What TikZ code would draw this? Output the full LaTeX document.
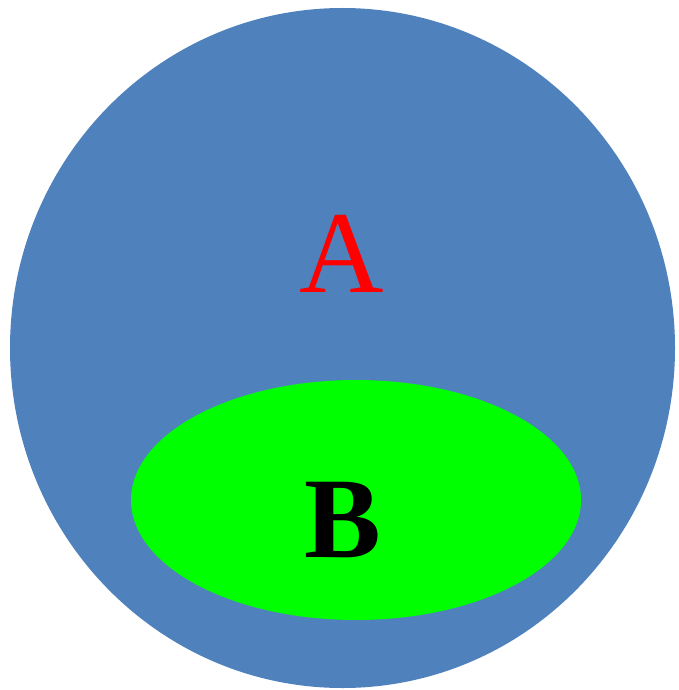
\documentclass[tikz,border=0pt]{standalone}
\usepackage{fontspec}
\setmainfont{Liberation Serif}
\definecolor{blueA}{HTML}{4F81BD}
\definecolor{greenB}{HTML}{00FF00}
\begin{document}
\begin{tikzpicture}[x=1pt,y=-1pt,
  setA/.style={fill=blueA,draw=none},
  setB/.style={fill=greenB,draw=none},
  lbl/.style={inner sep=0pt,anchor=base}]
\useasboundingbox (0,0) rectangle (679,690);
\path[setA] (342.5,348) ellipse [x radius=332.5, y radius=340];
\path[setB] (356,500) ellipse [x radius=225, y radius=120];
\node[lbl,text=red] (A) at (342,292) {\fontsize{117}{117}\selectfont A};
\node[lbl,text=black] (B) at (343,557) {\fontsize{115}{115}\selectfont\bfseries B};
\end{tikzpicture}
\end{document}
